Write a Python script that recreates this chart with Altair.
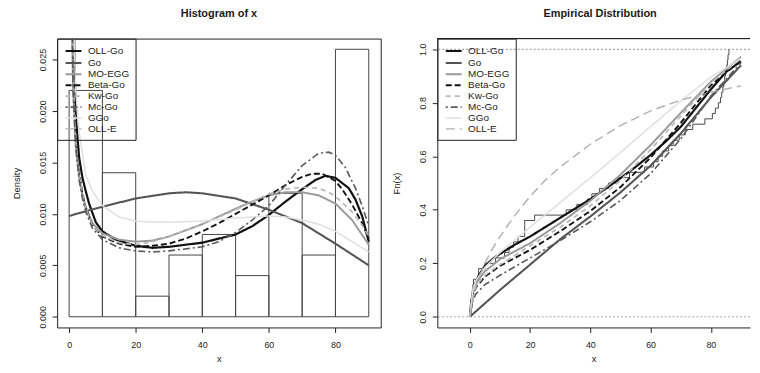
import altair as alt
import pandas as pd

FONT = "Liberation Sans"
INK = "#222222"

# ---------------- data ----------------
models = ["OLL-Go", "Go", "MO-EGG", "Beta-Go", "Kw-Go", "Mc-Go", "GGo", "OLL-E"]
colors = ["#111111", "#555555", "#9a9a9a", "#111111", "#b8b8b8", "#5a5a5a", "#e0e0e0", "#b0b0b0"]
dashes = [[1, 0], [1, 0], [1, 0], [6, 3], [5, 4], [2, 3, 7, 3], [1, 0], [9, 5]]
widths = [2.2, 1.4, 1.4, 1.8, 1.6, 2.0, 1.4, 1.6]

# histogram of x
bin_lo = [0, 10, 20, 30, 40, 50, 60, 70, 80]
bin_hi = [10, 20, 30, 40, 50, 60, 70, 80, 90]
bin_density = [0.022, 0.014, 0.002, 0.006, 0.008, 0.004, 0.012, 0.006, 0.026]

# fitted densities
dens_x = {
    "OLL-Go": [0.8, 1.2, 1.6, 2, 3, 4, 5, 6, 8, 10, 14, 20, 25, 30, 40, 50, 55, 60, 65, 70, 74, 77, 80, 84, 86, 88, 90],
    "Go": [0, 10, 20, 30, 35, 40, 50, 60, 70, 80, 90],
    "MO-EGG": [0.5, 0.8, 1.2, 2, 3, 4, 5, 7, 10, 15, 20, 25, 30, 40, 50, 55, 60, 65, 70, 75, 80, 85, 90],
    "Beta-Go": [0.6, 1, 1.5, 2, 3, 4, 5, 7, 10, 15, 20, 25, 30, 35, 40, 45, 50, 55, 60, 65, 70, 73, 76, 80, 82, 85, 88, 90],
    "Kw-Go": [0.6, 1, 1.5, 2, 3, 4, 5, 7, 10, 15, 20, 25, 30, 35, 40, 45, 50, 55, 60, 65, 70, 75, 78, 80, 85, 88, 90],
    "Mc-Go": [0.5, 0.8, 1.2, 2, 3, 4, 5, 7, 10, 15, 20, 25, 30, 40, 45, 50, 55, 60, 65, 70, 75, 78, 80, 83, 86, 88, 90],
    "GGo": [0.5, 0.8, 1.2, 2, 3, 5, 7, 10, 15, 20, 25, 30, 40, 50, 60, 65, 70, 75, 80, 85, 90],
}
dens_y = {
    "OLL-Go": [0.05, 0.034, 0.025, 0.0195, 0.0155, 0.0135, 0.0122, 0.011, 0.0092, 0.0083, 0.0075, 0.0069, 0.0067, 0.0068, 0.0072, 0.008, 0.0088, 0.0099, 0.0112, 0.0124, 0.0133, 0.0137, 0.0135, 0.0125, 0.0114, 0.0098, 0.0073],
    "Go": [0.0098, 0.0107, 0.0115, 0.0120, 0.0121, 0.0120, 0.0115, 0.0104, 0.0091, 0.0071, 0.0050],
    "MO-EGG": [0.05, 0.03, 0.022, 0.0165, 0.0136, 0.0118, 0.0106, 0.0091, 0.0081, 0.0075, 0.0073, 0.0074, 0.0078, 0.009, 0.0105, 0.0112, 0.0118, 0.0121, 0.0121, 0.0118, 0.011, 0.0094, 0.0070],
    "Beta-Go": [0.05, 0.028, 0.021, 0.0175, 0.014, 0.012, 0.0106, 0.0089, 0.0078, 0.0071, 0.0068, 0.0069, 0.0071, 0.0076, 0.0083, 0.0091, 0.0100, 0.0109, 0.0118, 0.0128, 0.0136, 0.0139, 0.0139, 0.0132, 0.0124, 0.0109, 0.0091, 0.0076],
    "Kw-Go": [0.05, 0.028, 0.021, 0.0172, 0.0138, 0.0119, 0.0105, 0.0089, 0.0079, 0.0072, 0.0070, 0.0073, 0.0078, 0.0084, 0.009, 0.0097, 0.0104, 0.0112, 0.0119, 0.0124, 0.0126, 0.0125, 0.0121, 0.0117, 0.0102, 0.0089, 0.0078],
    "Mc-Go": [0.05, 0.03, 0.022, 0.0165, 0.0133, 0.0115, 0.0102, 0.0086, 0.0075, 0.0067, 0.0064, 0.0063, 0.0064, 0.0068, 0.0073, 0.0082, 0.0094, 0.0108, 0.0128, 0.0147, 0.0159, 0.016, 0.0157, 0.0145, 0.0125, 0.0108, 0.0088],
    "GGo": [0.06, 0.04, 0.03, 0.022, 0.018, 0.0138, 0.0122, 0.0108, 0.0097, 0.0093, 0.0092, 0.0092, 0.0093, 0.0096, 0.0098, 0.0097, 0.0094, 0.009, 0.0083, 0.0073, 0.0063],
}

# fitted cdfs
cdf_grid = [0, 1, 2, 5, 10, 20, 30, 40, 50, 60, 70, 80, 90]
cdf_x = {
    "OLL-Go": [0, 0.5, 1, 2, 3, 5, 8, 10, 15, 20, 25, 30, 35, 40, 45, 50, 55, 60, 65, 70, 75, 80, 85, 90],
    "Go": [0, 2, 5, 10, 20, 30, 40, 50, 60, 70, 80, 90],
    "MO-EGG": cdf_grid,
    "Beta-Go": cdf_grid,
    "Kw-Go": cdf_grid,
    "Mc-Go": cdf_grid,
    "GGo": cdf_grid,
    "OLL-E": [0, 1, 2, 3, 5, 7, 10, 15, 20, 25, 30, 40, 50, 60, 70, 80, 90],
}
cdf_y = {
    "OLL-Go": [0, 0.06, 0.09, 0.13, 0.155, 0.19, 0.22, 0.235, 0.27, 0.30, 0.335, 0.37, 0.405, 0.44, 0.478, 0.518, 0.56, 0.605, 0.655, 0.71, 0.78, 0.85, 0.915, 0.955],
    "Go": [0, 0.02, 0.05, 0.10, 0.195, 0.29, 0.375, 0.465, 0.565, 0.685, 0.82, 0.94],
    "MO-EGG": [0, 0.09, 0.125, 0.17, 0.215, 0.275, 0.35, 0.434, 0.531, 0.642, 0.762, 0.879, 0.972],
    "Beta-Go": [0, 0.08, 0.11, 0.15, 0.19, 0.25, 0.32, 0.395, 0.485, 0.595, 0.725, 0.865, 0.96],
    "Kw-Go": [0, 0.085, 0.115, 0.155, 0.195, 0.265, 0.335, 0.415, 0.51, 0.625, 0.75, 0.875, 0.965],
    "Mc-Go": [0, 0.06, 0.085, 0.12, 0.155, 0.22, 0.285, 0.355, 0.435, 0.535, 0.665, 0.825, 0.95],
    "GGo": [0, 0.1, 0.135, 0.185, 0.24, 0.335, 0.427, 0.52, 0.614, 0.711, 0.807, 0.896, 0.966],
    "OLL-E": [0, 0.07, 0.11, 0.145, 0.2, 0.245, 0.3, 0.38, 0.45, 0.51, 0.56, 0.645, 0.715, 0.77, 0.81, 0.84, 0.863],
}

# sorted sample (50 observations) behind the empirical cdf
sample = [0.2, 0.3, 0.5, 0.6, 0.8, 1.0, 1.2, 2.8, 2.9, 5.0, 8.5,
          11.5, 13.0, 14.5, 16.0, 18.2, 18.2, 18.2,
          21.5,
          32.0, 35.5, 39.0,
          40.5, 43.0, 46.0, 49.0,
          53.0, 58.0,
          61.0, 62.5, 64.0, 66.0, 67.5, 69.5,
          71.5, 74.0, 78.0,
          80.5, 81.5, 82.5, 83.2, 83.6, 84.0, 84.3, 84.6, 84.9, 85.2, 85.5, 85.7, 86.0]

ref_levels = [0, 1]

x_ticks = [0, 20, 40, 60, 80]
dens_ticks = [0, 0.005, 0.010, 0.015, 0.020, 0.025]
cdf_ticks = [0.0, 0.2, 0.4, 0.6, 0.8, 1.0]


def to_long(xd, yd):
    rows = []
    for m in models:
        if m in xd:
            for i, (a, b) in enumerate(zip(xd[m], yd[m])):
                rows.append({"model": m, "x": a, "y": b, "ord": i})
    return pd.DataFrame(rows)


dens_df = to_long(dens_x, dens_y)
cdf_df = to_long(cdf_x, cdf_y)
hist_df = pd.DataFrame({"lo": bin_lo, "hi": bin_hi, "d": bin_density})
n = len(sample)
ecdf_df = pd.DataFrame({"x": [sample[0]] + sample,
                        "F": [0.0] + [(i + 1) / n for i in range(n)],
                        "ord": list(range(n + 1))})
ref_df = pd.DataFrame({"h": ref_levels})

# ---------------- styling helpers ----------------
W_L, W_R, H = 326, 315, 291


def legend():
    return alt.Legend(orient="none", legendX=0, legendY=0, title=None,
                      symbolType="M-1.6,0H1.6", symbolSize=100, symbolStrokeWidth=1.5,
                      labelFont=FONT, labelFontSize=10, labelColor=INK,
                      strokeColor=INK, padding=6, rowPadding=0,
                      symbolOffset=4, labelOffset=8, fillColor="transparent")


def series_enc(xscale, yscale):
    return dict(
        x=alt.X("x:Q", scale=xscale),
        y=alt.Y("y:Q", scale=yscale),
        color=alt.Color("model:N", scale=alt.Scale(domain=models, range=colors), legend=legend()),
        strokeDash=alt.StrokeDash("model:N", scale=alt.Scale(domain=models, range=dashes), legend=legend()),
        strokeWidth=alt.StrokeWidth("model:N", scale=alt.Scale(domain=models, range=widths), legend=None),
        order=alt.Order("ord:Q"),
    )


def x_axis(domain_line):
    return alt.Axis(values=x_ticks, title="x", grid=False, domain=domain_line, domainColor=INK,
                    tickSize=5, tickColor=INK, labelFont=FONT, labelFontSize=9, labelColor=INK,
                    labelPadding=8, titleFont=FONT, titleFontSize=9.5, titleFontWeight="normal",
                    titleColor=INK, titleY=31, titleBaseline="middle")


def y_axis(vals, fmt, title, domain_line):
    return alt.Axis(values=vals, format=fmt, title=title, grid=False, domain=domain_line, domainColor=INK,
                    tickSize=5, tickColor=INK, labelFont=FONT, labelFontSize=9, labelColor=INK,
                    labelAngle=270, labelAlign="center", labelBaseline="bottom", labelPadding=5,
                    titleFont=FONT, titleFontSize=9.5, titleFontWeight="normal", titleColor=INK,
                    titleAngle=270, titleX=-41, titleY=H / 2, titleAlign="center", titleBaseline="middle")


# ---------------- left panel: histogram + densities ----------------
xl = alt.Scale(domain=[-3.6, 93.6], nice=False, zero=False)
yl = alt.Scale(domain=[-0.00104, 0.02704], nice=False, zero=False)

bars = alt.Chart(hist_df).mark_rect(fill="transparent", stroke="#444444", strokeWidth=1).encode(
    x=alt.X("lo:Q", scale=xl, axis=x_axis(False)),
    x2="hi:Q",
    y=alt.Y("d:Q", scale=yl, axis=y_axis(dens_ticks, ".3f", "Density", False)),
    y2=alt.datum(0),
)
dens_lines = alt.Chart(dens_df).mark_line(clip=True).encode(**series_enc(xl, yl))

left = alt.layer(bars, dens_lines).properties(
    width=W_L, height=H,
    title=alt.TitleParams("Histogram of x", font=FONT, fontSize=11, fontWeight="bold",
                          color="#1a1a1a", offset=19, anchor="middle"),
    view=alt.ViewBackground(stroke=INK, strokeWidth=1),
)

# ---------------- right panel: empirical distribution ----------------
xr = alt.Scale(domain=[-10.8, 93.0], nice=False, zero=False)
yr = alt.Scale(domain=[-0.04, 1.04], nice=False, zero=False)

refs = alt.Chart(ref_df).mark_rule(color="#a8a8a8", strokeDash=[2, 2], strokeWidth=1.2).encode(
    y=alt.Y("h:Q", scale=yr, axis=y_axis(cdf_ticks, ".1f", "Fn(x)", True)),
)
ecdf = alt.Chart(ecdf_df).mark_line(interpolate="step-after", color="#4a4a4a", strokeWidth=1).encode(
    x=alt.X("x:Q", scale=xr, axis=x_axis(True)),
    y=alt.Y("F:Q", scale=yr),
    order=alt.Order("ord:Q"),
)
cdf_lines = alt.Chart(cdf_df).mark_line(clip=True).encode(**series_enc(xr, yr))
top_edge = alt.Chart(ref_df).mark_rule(color=INK, strokeWidth=1).encode(
    x=alt.value(0), x2=alt.value(W_R), y=alt.value(0)
)

right = alt.layer(refs, ecdf, cdf_lines, top_edge).properties(
    width=W_R, height=H,
    title=alt.TitleParams("Empirical Distribution", font=FONT, fontSize=11, fontWeight="bold",
                          color="#1a1a1a", offset=19, anchor="middle", dx=6.5),
    view=alt.ViewBackground(stroke="transparent"),
)

chart = alt.hconcat(left, right, spacing=9).resolve_scale(
    color="independent", strokeDash="independent", strokeWidth="independent"
).properties(
    padding={"left": 2.5, "top": -1.5, "right": 0, "bottom": 0},
    background="white",
)

chart.save("out.html", embed_options={"renderer": "svg", "actions": False})
